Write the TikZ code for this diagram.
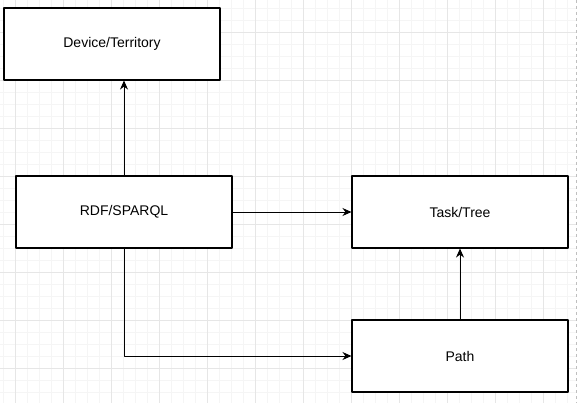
\documentclass[tikz,border=0pt]{standalone}
\usepackage{fontspec}
\setmainfont{Liberation Sans}
\usetikzlibrary{arrows.meta}
\definecolor{gridmin}{HTML}{F5F5F5}
\definecolor{gridmaj}{HTML}{E6E6E6}
\begin{document}
\begin{tikzpicture}[x=1pt,y=-1pt,>={Stealth[length=9pt,width=8pt]},font=\fontsize{14}{16}\selectfont,line join=round,
box/.style={draw,line width=1.1pt,minimum width=216pt,minimum height=72pt,inner sep=0pt,fill=white},
link/.style={->,line width=1pt}]
\useasboundingbox (0,0) rectangle (577,403);
% grid
\foreach \x in {3,15,...,575} \draw[gridmin,line width=.8pt] (\x,0)--(\x,403);
\foreach \y in {8,20,...,403} \draw[gridmin,line width=.8pt] (0,\y)--(577,\y);
\foreach \x in {15,63,...,575} \draw[gridmaj,line width=.8pt] (\x,0)--(\x,403);
\foreach \y in {32,80,...,403} \draw[gridmaj,line width=.8pt] (0,\y)--(577,\y);
\draw[gray!50,dashed,line width=.8pt] (576,0)--(576,403);
% boxes
\node[box] (dev) at (112,44) {Device/Territory};
\node[box] (rdf) at (124,212) {RDF/SPARQL};
\node[box] (task) at (460,212) {Task/Tree};
\node[box] (path) at (460,356) {Path};
% links
\draw[link] (rdf.north)--(rdf.north|-dev.south);
\draw[link] (rdf)--(task);
\draw[link] (rdf.south)|-(path.west);
\draw[link] (path)--(task);
\end{tikzpicture}
\end{document}
